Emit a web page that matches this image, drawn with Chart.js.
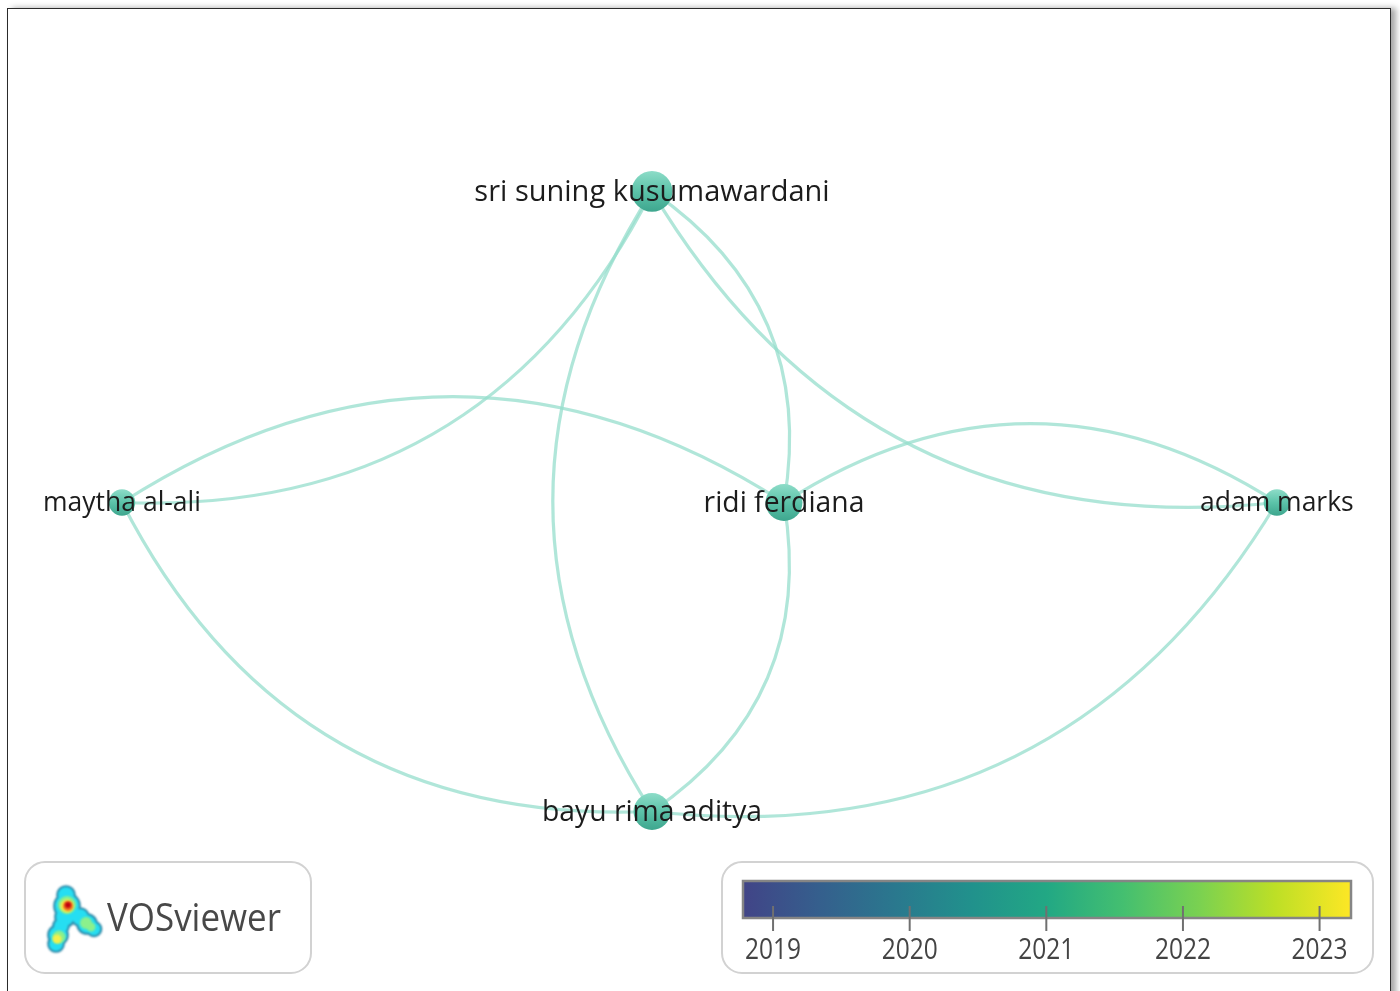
<!DOCTYPE html>
<html>
<head>
<meta charset="utf-8">
<script src="https://cdn.jsdelivr.net/npm/chart.js@4"></script>
<style>
  html, body { margin: 0; padding: 0; background: #fff; overflow: hidden; }
  #frame {
    position: absolute; left: 7px; top: 8px; width: 1382px; height: 1100px;
    border: 1.5px solid #2a2a2a; box-shadow: 5px 0 6px rgba(0,0,0,0.35); background: #fff;
  }
  #net { position: absolute; left: 0; top: 0; }
</style>
</head>
<body>
<div id="frame"></div>
<canvas id="net" width="1400" height="991"></canvas>
<script>
// ==============================
// Data (VOSviewer layout coordinates)
// ==============================
const authors = ["sri suning kusumawardani", "ridi ferdiana", "maytha al-ali", "adam marks", "bayu rima aditya"];
const layoutX = [0.000, 0.249, -1.000, 1.179, 0.000];
const layoutY = [0.587, 0.000, 0.000, 0.000, -0.583];
const documents = [4, 3, 1, 1, 3];

// co-authorship links, [from, to]
const linkFrom = [0, 2, 4, 4, 0, 3, 1, 1, 3];
const linkTo   = [2, 1, 2, 0, 1, 0, 3, 4, 4];

// overlay colour bar
const yearTicks = [2019, 2020, 2021, 2022, 2023];
const yearMin = 2018.78;
const yearMax = 2023.23;

// ==============================
// Helpers
// ==============================
const viridis = ["#414487", "#355f8d", "#2a788e", "#21918c", "#22a884", "#44bf70", "#7ad151", "#bddf26", "#fde725"];

function nodeRadius(w) { return 6 + 7.2 * Math.sqrt(w); }
function labelSize(w) { return 24 + 2.5 * Math.sqrt(w); }

function px(chart, i) {
    return {
        x: chart.scales.x.getPixelForValue(layoutX[i]),
        y: chart.scales.y.getPixelForValue(layoutY[i])
    };
}

function roundRect(ctx, x, y, w, h, r) {
    ctx.beginPath();
    ctx.moveTo(x + r, y);
    ctx.arcTo(x + w, y, x + w, y + h, r);
    ctx.arcTo(x + w, y + h, x, y + h, r);
    ctx.arcTo(x, y + h, x, y, r);
    ctx.arcTo(x, y, x + w, y, r);
    ctx.closePath();
}

// ==============================
// Plugins
// ==============================
const linkPlugin = {
    id: "links",
    beforeDatasetsDraw(chart) {
        const ctx = chart.ctx;
        ctx.save();
        ctx.strokeStyle = "rgba(150, 222, 204, 0.75)";
        ctx.lineWidth = 3.2;
        for (let i = 0; i < linkFrom.length; i++) {
            const a = px(chart, linkFrom[i]);
            const b = px(chart, linkTo[i]);
            const dx = b.x - a.x, dy = b.y - a.y;
            const k = 0.32;
            const cx = (a.x + b.x) / 2 + k * dy;
            const cy = (a.y + b.y) / 2 - k * dx;
            ctx.beginPath();
            ctx.moveTo(a.x, a.y);
            ctx.quadraticCurveTo(cx, cy, b.x, b.y);
            ctx.stroke();
        }
        ctx.restore();
    }
};

const labelPlugin = {
    id: "labels",
    afterDatasetsDraw(chart) {
        const ctx = chart.ctx;
        ctx.save();
        ctx.textAlign = "center";
        ctx.textBaseline = "middle";
        ctx.fillStyle = "#1c1c1c";
        authors.forEach(function (name, i) {
            const p = px(chart, i);
            ctx.font = labelSize(documents[i]).toFixed(1) + 'px "Open Sans"';
            ctx.fillText(name, p.x, p.y + 1);
        });
        ctx.restore();
    }
};

function drawLogo(ctx) {
    ctx.save();
    ctx.filter = "blur(0.8px)";
    const body = [[66,895,8],[67,906,12],[65,917,9],[61,926,7],[58,935,9],[56,944,7],[73,913,6],[80,917,8],[87,924,9],[94,929,6.5]];
    const layers = [
        ["#2f86a6", 1.8, body],
        ["#26def2", 0, body],
        ["#8cf08c", 0, [[67,905,9],[59,937,6.5],[86,923,6],[91,927,4.5]]],
        ["#f4f04a", 0, [[67,906,6.5],[57,939,4.5]]],
        ["#f07020", 0, [[68,906,5]]],
        ["#c00010", 0, [[68,905,3]]]
    ];
    layers.forEach(function (layer) {
        ctx.fillStyle = layer[0];
        ctx.beginPath();
        layer[2].forEach(function (c) {
            ctx.moveTo(c[0] + c[2] + layer[1], c[1]);
            ctx.arc(c[0], c[1], c[2] + layer[1], 0, Math.PI * 2);
        });
        ctx.fill();
    });
    ctx.restore();
}

const legendPlugin = {
    id: "overlayLegend",
    afterDraw(chart) {
        const ctx = chart.ctx;
        ctx.save();
        ctx.strokeStyle = "#d2d2d2";
        ctx.lineWidth = 2;
        roundRect(ctx, 25, 862, 286, 111, 20);
        ctx.stroke();
        roundRect(ctx, 722, 862, 651, 111, 20);
        ctx.stroke();

        drawLogo(ctx);
        ctx.fillStyle = "#484848";
        ctx.font = '38px "Open Sans"';
        ctx.textAlign = "left";
        ctx.textBaseline = "alphabetic";
        ctx.fillText("VOSviewer", 107, 931, 174);

        // colour bar
        const barL = 743, barR = 1351, barT = 881, barB = 918;
        const grad = ctx.createLinearGradient(barL, 0, barR, 0);
        viridis.forEach(function (c, i) { grad.addColorStop(i / (viridis.length - 1), c); });
        ctx.fillStyle = grad;
        ctx.fillRect(barL, barT, barR - barL, barB - barT);
        ctx.strokeStyle = "#858585";
        ctx.lineWidth = 2.5;
        ctx.strokeRect(barL, barT, barR - barL, barB - barT);

        ctx.strokeStyle = "#707070";
        ctx.lineWidth = 2;
        ctx.fillStyle = "#444";
        ctx.font = '30px "Open Sans"';
        ctx.textAlign = "center";
        ctx.textBaseline = "middle";
        yearTicks.forEach(function (yr) {
            const x = barL + (yr - yearMin) / (yearMax - yearMin) * (barR - barL);
            ctx.beginPath();
            ctx.moveTo(x, 906);
            ctx.lineTo(x, 931);
            ctx.stroke();
            ctx.fillText(String(yr), x, 950, 56);
        });
        ctx.restore();
    }
};

// ==============================
// Create Chart
// ==============================
const netCanvas = document.getElementById("net");

const nodePoints = layoutX.map(function (x, i) {
    return { x: x, y: layoutY[i] };
});

new Chart(netCanvas, {
    type: "scatter",
    data: {
        datasets: [{
            data: nodePoints,
            pointRadius: function (c) { return nodeRadius(documents[c.dataIndex]); },
            pointHoverRadius: function (c) { return nodeRadius(documents[c.dataIndex]); },
            borderWidth: 0,
            backgroundColor: function (c) {
                const chart = c.chart;
                if (!chart.chartArea || c.dataIndex === undefined) return "#4dbb9f";
                const y = chart.scales.y.getPixelForValue(layoutY[c.dataIndex]);
                const r = nodeRadius(documents[c.dataIndex]);
                const g = chart.ctx.createLinearGradient(0, y - r, 0, y + r);
                g.addColorStop(0, "#8ddcc8");
                g.addColorStop(0.5, "#5cc3a9");
                g.addColorStop(1, "#3ea68e");
                return g;
            }
        }]
    },
    options: {
        responsive: false,
        animation: false,
        devicePixelRatio: 1,
        layout: { padding: 0, autoPadding: false },
        scales: {
            x: { type: "linear", display: false, min: -1.2302, max: 1.4113 },
            y: { type: "linear", display: false, min: -0.9217, max: 0.9481 }
        },
        plugins: {
            legend: { display: false },
            tooltip: { enabled: false }
        }
    },
    plugins: [linkPlugin, labelPlugin, legendPlugin]
});
</script>
</body>
</html>
